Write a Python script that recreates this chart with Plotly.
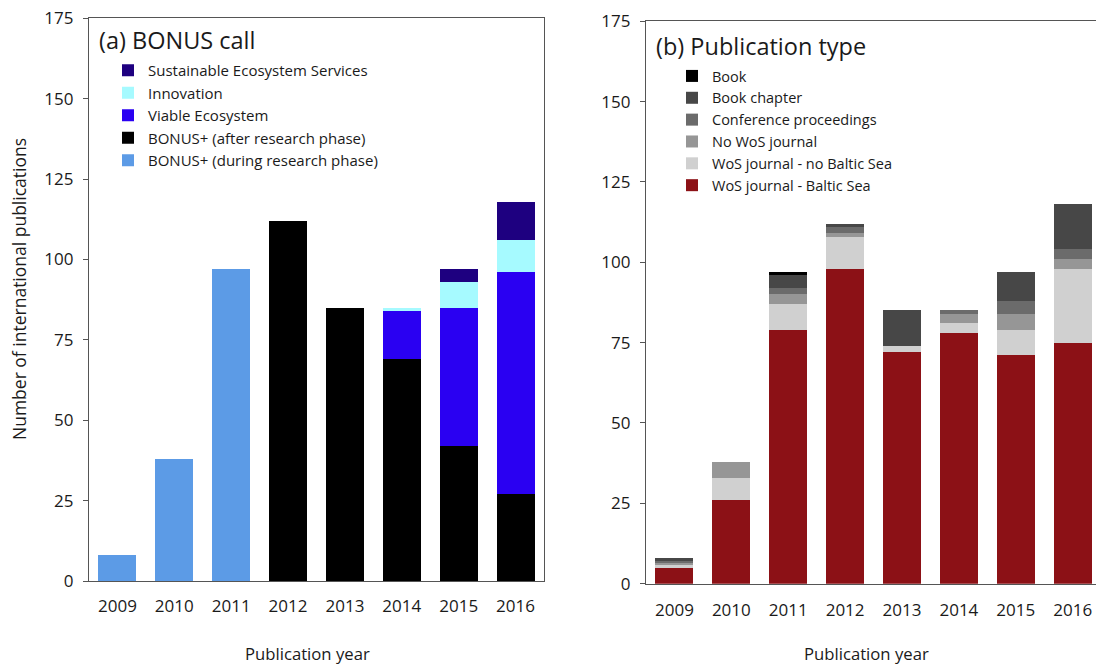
import plotly.graph_objects as go

W, H = 1096, 665

years = ["2009", "2010", "2011", "2012", "2013", "2014", "2015", "2016"]

# (a) publications by BONUS call
bonus_during = [8, 38, 97, 0, 0, 0, 0, 0]
bonus_after = [0, 0, 0, 112, 85, 69, 42, 27]
viable_ecosystem = [0, 0, 0, 0, 0, 15, 43, 69]
innovation = [0, 0, 0, 0, 0, 1, 8, 10]
sustainable_services = [0, 0, 0, 0, 0, 0, 4, 12]

# (b) publications by type
wos_baltic = [5, 26, 79, 98, 72, 78, 71, 75]
wos_no_baltic = [0.8, 7, 8, 10, 2, 3, 8, 23]
no_wos_journal = [0.7, 5, 3, 1, 0, 3, 5, 3]
conference = [0.5, 0, 2, 2, 0, 1, 4, 3]
book_chapter = [1, 0, 4, 1, 11, 0, 9, 14]
book = [0, 0, 1, 0, 0, 0, 0, 0]

y_ticks = [0, 25, 50, 75, 100, 125, 150, 175]

FONT = "Open Sans"
TXT = "#1a1a1a"


def px_x(x):
    return x / W


def px_y(y):
    return 1 - y / H


fig = go.Figure()

left_series = [
    ("BONUS+ (during research phase)", bonus_during, "#5C9BE6"),
    ("BONUS+ (after research phase)", bonus_after, "#000000"),
    ("Viable Ecosystem", viable_ecosystem, "#2A00F2"),
    ("Innovation", innovation, "#A6FAFF"),
    ("Sustainable Ecosystem Services", sustainable_services, "#1E0080"),
]
for name, vals, col in left_series:
    fig.add_trace(go.Bar(x=years, y=vals, name=name, marker=dict(color=col, line=dict(width=0)),
                         xaxis="x", yaxis="y", legend="legend"))

right_series = [
    ("WoS journal - Baltic Sea", wos_baltic, "#8C1116"),
    ("WoS journal - no Baltic Sea", wos_no_baltic, "#D0D0D0"),
    ("No WoS journal", no_wos_journal, "#969696"),
    ("Conference proceedings", conference, "#6B6B6B"),
    ("Book chapter", book_chapter, "#474747"),
    ("Book", book, "#000000"),
]
for name, vals, col in right_series:
    fig.add_trace(go.Bar(x=years, y=vals, name=name, marker=dict(color=col, line=dict(width=0)),
                         xaxis="x2", yaxis="y2", legend="legend2"))

axis_common = dict(linecolor="#555555", linewidth=1.3, showgrid=False, zeroline=False,
                   automargin=False, tickfont=dict(family=FONT, size=17, color=TXT))

fig.update_layout(
    width=W, height=H,
    margin=dict(l=0, r=0, t=0, b=0, autoexpand=False),
    paper_bgcolor="white", plot_bgcolor="white",
    barmode="stack", bargap=1 / 3,
    font=dict(family=FONT, color=TXT),
    xaxis=dict(domain=[px_x(89), px_x(544)], type="category", range=[-0.5, 7.5],
               showline=True, mirror=True, ticks="", anchor="y", ticklabelstandoff=9, **axis_common),
    yaxis=dict(domain=[px_y(581), px_y(18.3)], range=[0, 175], tickvals=y_ticks,
               showline=True, mirror=True, ticks="outside", ticklen=5, tickcolor="#555555",
               anchor="x", ticklabelstandoff=6, **axis_common),
    xaxis2=dict(domain=[px_x(646), 1.0], type="category", range=[-0.5, 7.41],
                showline=True, mirror=True, ticks="", anchor="y2", ticklabelstandoff=11, **axis_common),
    yaxis2=dict(domain=[px_y(583.7), px_y(21.2)], range=[0, 175], tickvals=y_ticks,
                showline=True, mirror=False, ticks="outside", ticklen=5, tickcolor="#555555",
                anchor="x2", ticklabelstandoff=6, **axis_common),
    legend=dict(x=px_x(108), y=px_y(54), xanchor="left", yanchor="top",
                traceorder="reversed", bgcolor="rgba(0,0,0,0)",
                font=dict(family=FONT, size=15, color=TXT), tracegroupgap=0),
    legend2=dict(x=px_x(672), y=px_y(60), xanchor="left", yanchor="top",
                 traceorder="reversed", bgcolor="rgba(0,0,0,0)",
                 font=dict(family=FONT, size=14.5, color=TXT), tracegroupgap=0),
    showlegend=True,
)

annotations = [
    dict(text="(a) BONUS call", x=px_x(97), y=px_y(40), xanchor="left", yanchor="middle",
         font=dict(size=23.5)),
    dict(text="(b) Publication type", x=px_x(654), y=px_y(46), xanchor="left", yanchor="middle",
         font=dict(size=23.5)),
    dict(text="Publication year", x=px_x(307.5), y=px_y(653), xanchor="center", yanchor="middle",
         font=dict(size=16.7)),
    dict(text="Publication year", x=px_x(866), y=px_y(653), xanchor="center", yanchor="middle",
         font=dict(size=16.7)),
    dict(text="Number of international publications", x=px_x(19), y=px_y(289), textangle=-90,
         xanchor="center", yanchor="middle", font=dict(size=17.5)),
]
for a in annotations:
    a.update(xref="paper", yref="paper", showarrow=False)
    a["font"].update(family=FONT, color=TXT)
fig.update_layout(annotations=annotations)

fig.write_html("out.html")
